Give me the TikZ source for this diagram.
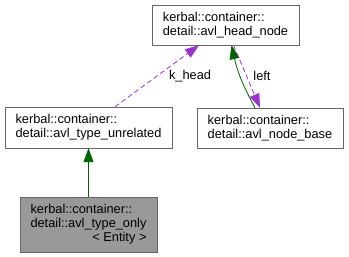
\documentclass[tikz,border=0pt]{standalone}
\usepackage{fontspec}
\setmainfont{Liberation Sans}
\usetikzlibrary{arrows.meta}

\definecolor{edgegreen}{HTML}{006400}
\definecolor{edgepurple}{HTML}{9A32CD}
\definecolor{boxline}{HTML}{666666}
\definecolor{boxfill}{HTML}{999999}

\tikzset{
    cls/.style={draw=boxline, rectangle, align=left, inner sep=0pt,
                font=\fontsize{12.8}{14}\selectfont},
    inherit/.style={edgegreen, thick, -{Triangle[length=14pt,width=10pt]}},
    usage/.style={edgepurple, thick, dash pattern=on 5pt off 3pt,
                  -{Triangle[length=14pt,width=10pt]}},
    lbl/.style={font=\fontsize{12.8}{14}\selectfont, inner sep=1pt}
}

\begin{document}
\begin{tikzpicture}[x=1pt, y=-1pt]
        \useasboundingbox (0,0) rectangle (349,257);

        % class boxes
        \node[cls, minimum width=147pt, minimum height=40pt] (head) at (225.5,25)
            {kerbal::container::\\detail::avl\_head\_node};
        \node[cls, minimum width=146pt, minimum height=40pt] (base) at (270,128)
            {kerbal::container::\\detail::avl\_node\_base};
        \node[cls, minimum width=167pt, minimum height=41pt] (unrelated) at (88.5,127.5)
            {kerbal::container::\\detail::avl\_type\_unrelated};
        \node[cls, fill=boxfill, minimum width=137pt, minimum height=55pt] (typeonly) at (88.5,224.5)
            {kerbal::container::\\detail::avl\_type\_only\\\hfill< Entity >\hfill};

        % inheritance
        \draw[inherit] (typeonly) -- (unrelated);
        \draw[inherit] ([xshift=-15pt]base.north) to[bend left=8] ([xshift=6pt]head.south);

        % member usage
        \draw[usage] ([xshift=26.5pt]unrelated.north) -- ([xshift=-26.5pt]head.south);
        \draw[usage] ([xshift=8pt]head.south) -- ([xshift=-10pt]base.north);

        \node[lbl] (khead) at (190,76) {k\_head};
        \node[lbl] (left) at (262,76) {left};

\end{tikzpicture}
\end{document}
